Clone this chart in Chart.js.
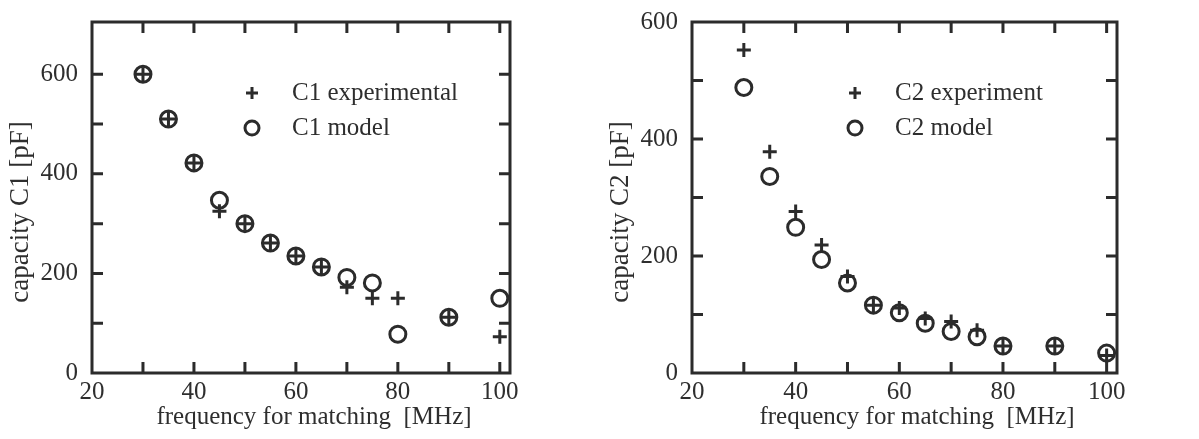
<!DOCTYPE html>
<html>
<head>
<meta charset="utf-8">
<script src="https://cdn.jsdelivr.net/npm/chart.js@4.4.0/dist/chart.umd.min.js"></script>
<style>
  html, body { margin: 0; padding: 0; background: #fff; }
  #wrap { position: relative; width: 1199px; height: 439px; }
  canvas { position: absolute; top: 0; }
</style>
</head>
<body>
<div id="wrap">
  <canvas id="c1Chart" width="600" height="439" style="left:0"></canvas>
  <canvas id="c2Chart" width="599" height="439" style="left:600px"></canvas>
</div>
<script>
// matching frequencies, MHz
const freq = [30, 35, 40, 45, 50, 55, 60, 65, 70, 75, 80, 90, 100];

// capacitor C1, pF
const c1Experimental = [600, 510, 422, 325, 300, 261, 235, 213, 172, 150, 150, 112, 73];
const c1Model        = [600, 510, 422, 347, 300, 261, 235, 213, 192, 181, 78, 112, 150];

// capacitor C2, pF
const c2Experiment = [552, 378, 276, 219, 165, 116, 111, 93, 88, 73, 46, 46, 30];
const c2Model      = [488, 336, 249, 194, 154, 116, 103, 85, 71, 62, 46, 46, 34];

const xTickLabels = [20, 40, 60, 80, 100];
const yTickLabels = [0, 200, 400, 600];

const INK = '#2b2b2b';
const TEXT = '#2e2e2e';
const FONT = '"Liberation Serif", "Times New Roman", serif';

// box around the plot with short inward ticks on all four sides
const framePlugin = {
  id: 'frame',
  afterDraw(chart, args, opts) {
    const { ctx, chartArea: a, scales } = chart;
    ctx.save();
    ctx.strokeStyle = INK;
    ctx.lineWidth = 3;
    ctx.strokeRect(a.left, a.top, a.right - a.left, a.bottom - a.top);
    ctx.beginPath();
    opts.xMarks.forEach(v => {
      const px = scales.x.getPixelForValue(v);
      ctx.moveTo(px, a.bottom); ctx.lineTo(px, a.bottom - 11);
      ctx.moveTo(px, a.top); ctx.lineTo(px, a.top + 11);
    });
    opts.yMarks.forEach(v => {
      const py = scales.y.getPixelForValue(v);
      ctx.moveTo(a.left, py); ctx.lineTo(a.left + 11, py);
      ctx.moveTo(a.right, py); ctx.lineTo(a.right - 11, py);
    });
    ctx.stroke();
    ctx.restore();
  }
};

// axis titles, placed relative to the plot box
const captionPlugin = {
  id: 'captions',
  afterDraw(chart, args, opts) {
    const { ctx, chartArea: a } = chart;
    ctx.save();
    ctx.fillStyle = TEXT;
    ctx.textAlign = 'center';
    ctx.textBaseline = 'middle';
    ctx.font = '25px ' + FONT;
    ctx.fillText(opts.xTitle, a.left + opts.xTitleDx, a.bottom + 44);
    ctx.translate(a.left - 71, a.top + 190);
    ctx.rotate(-Math.PI / 2);
    ctx.font = '27px ' + FONT;
    ctx.fillText(opts.yTitle, 0, 0);
    ctx.restore();
  }
};

// legend drawn inside the plot box
const keyPlugin = {
  id: 'key',
  afterDraw(chart, args, opts) {
    const { ctx, chartArea: a } = chart;
    ctx.save();
    ctx.font = '25px ' + FONT;
    ctx.textBaseline = 'middle';
    chart.data.datasets.forEach((ds, i) => {
      const x = a.left + opts.dx;
      const y = a.top + 71 + i * 35;
      ctx.strokeStyle = INK;
      ctx.fillStyle = 'rgba(0,0,0,0)';
      ctx.lineWidth = ds.borderWidth;
      Chart.helpers.drawPoint(ctx, {
        pointStyle: ds.pointStyle, radius: ds.pointRadius - 1,
        borderWidth: ds.borderWidth, rotation: 0
      }, x, y);
      ctx.fillStyle = TEXT;
      ctx.fillText(ds.label, x + 40, y);
    });
    ctx.restore();
  }
};

function makeChart(id, opts) {
  const tickFont = { family: FONT, size: 25 };
  return new Chart(document.getElementById(id), {
    type: 'scatter',
    data: {
      datasets: [
        {
          label: opts.labels[0],
          data: freq.map((f, i) => ({ x: f, y: opts.exp[i] })),
          pointStyle: 'cross',
          pointRadius: 7,
          borderWidth: 3,
          borderColor: INK
        },
        {
          label: opts.labels[1],
          data: freq.map((f, i) => ({ x: f, y: opts.model[i] })),
          pointStyle: 'circle',
          pointRadius: 8,
          borderWidth: 3,
          borderColor: INK,
          backgroundColor: 'rgba(0,0,0,0)'
        }
      ]
    },
    options: {
      responsive: false,
      animation: false,
      devicePixelRatio: 1,
      layout: { padding: { top: 22, right: opts.padRight, left: 0, bottom: 0 } },
      plugins: {
        legend: { display: false },
        tooltip: { enabled: false },
        frame: { xMarks: [30, 40, 50, 60, 70, 80, 90, 100], yMarks: opts.yMarks },
        captions: { xTitle: 'frequency for matching  [MHz]', yTitle: opts.yTitle, xTitleDx: opts.xTitleDx },
        key: { dx: opts.keyDx }
      },
      scales: {
        x: {
          type: 'linear', min: 20, max: 102,
          grid: { display: false }, border: { display: false },
          afterBuildTicks: s => { s.ticks = xTickLabels.map(v => ({ value: v })); },
          afterFit: s => { s.height = 66; },
          ticks: { font: tickFont, color: TEXT, padding: -4, maxRotation: 0, autoSkip: false }
        },
        y: {
          type: 'linear', min: 0, max: opts.yMax,
          grid: { display: false }, border: { display: false },
          afterBuildTicks: s => { s.ticks = yTickLabels.map(v => ({ value: v })); },
          afterFit: s => { s.width = 92; },
          ticks: { font: tickFont, color: TEXT, padding: 6, autoSkip: false }
        }
      }
    },
    plugins: [framePlugin, captionPlugin, keyPlugin]
  });
}

makeChart('c1Chart', {
  exp: c1Experimental, model: c1Model,
  labels: ['C1 experimental', 'C1 model'],
  yTitle: 'capacity C1 [pF]', yMax: 705,
  yMarks: [100, 200, 300, 400, 500, 600],
  padRight: 90, xTitleDx: 222, keyDx: 160
});

makeChart('c2Chart', {
  exp: c2Experiment, model: c2Model,
  labels: ['C2 experiment', 'C2 model'],
  yTitle: 'capacity C2 [pF]', yMax: 600,
  yMarks: [100, 200, 300, 400, 500],
  padRight: 82, xTitleDx: 225, keyDx: 163
});
</script>
</body>
</html>
